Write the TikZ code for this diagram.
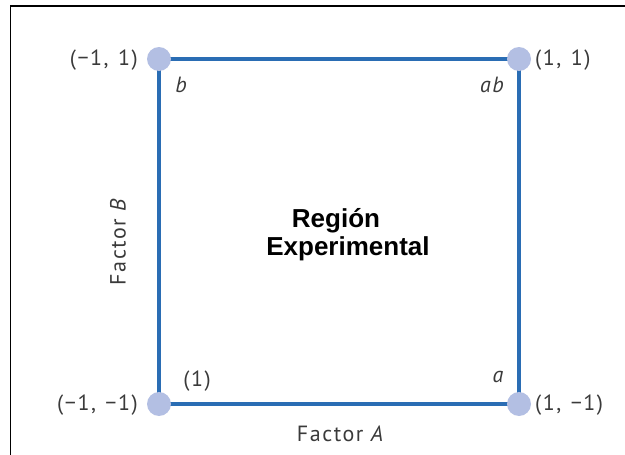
\documentclass[tikz,border=0pt]{standalone}
\usepackage{fontspec}
\setmainfont[LetterSpace=7]{PT Sans}
\newfontfamily\boldsans{Liberation Sans}
\definecolor{edgeblue}{HTML}{2A6DB4}
\definecolor{dotblue}{HTML}{B3BFE3}
\definecolor{labgray}{HTML}{3A3A3A}
\begin{document}
\begin{tikzpicture}[x=1pt,y=-1pt,
  corner/.style={circle,fill=dotblue,minimum size=24pt,inner sep=0pt},
  edge/.style={draw=edgeblue,line width=4pt},
  lab/.style={text=labgray,font=\fontsize{22}{26}\selectfont,inner sep=0pt},
  region/.style={font=\boldsans\bfseries\fontsize{26}{30}\selectfont,inner sep=0pt,anchor=base}]
\useasboundingbox (0,0) rectangle (625,455);
\draw[line width=1.8pt] (10.5,455) -- (10.5,6) -- (625,6);
\coordinate (c00) at (159,404);
\coordinate (c10) at (519,404);
\coordinate (c01) at (159,59);
\coordinate (c11) at (519,59);
\draw[edge] (c00) -- (c10) -- (c11) -- (c01) -- cycle;
\node[corner] (n00) at (c00) {};
\node[corner] (n10) at (c10) {};
\node[corner] (n01) at (c01) {};
\node[corner] (n11) at (c11) {};
\node[lab,anchor=east] (l01) at (138,60) {(−1,\hspace{2pt} 1)};
\node[lab,anchor=west] (l11) at (535,60) {(1,\hspace{2pt} 1)};
\node[lab,anchor=east] (l00) at (138,405) {(−1,\hspace{2pt} −1)};
\node[lab,anchor=west] (l10) at (535,405) {(1,\hspace{2pt} −1)};
\node[lab] (tb) at (181,85) {\itshape b};
\node[lab] (tab) at (492,85) {\itshape ab};
\node[lab] (t1) at (197,381) {(1)};
\node[lab] (ta) at (498,377) {\itshape a};
\node[lab] (fa) at (340,434) {Factor \itshape A};
\node[lab,rotate=90] (fb) at (118,242) {Factor \itshape B};
\node[region] (reg1) at (336,227) {Región};
\node[region] (reg2) at (348,255) {Experimental};
\end{tikzpicture}
\end{document}
